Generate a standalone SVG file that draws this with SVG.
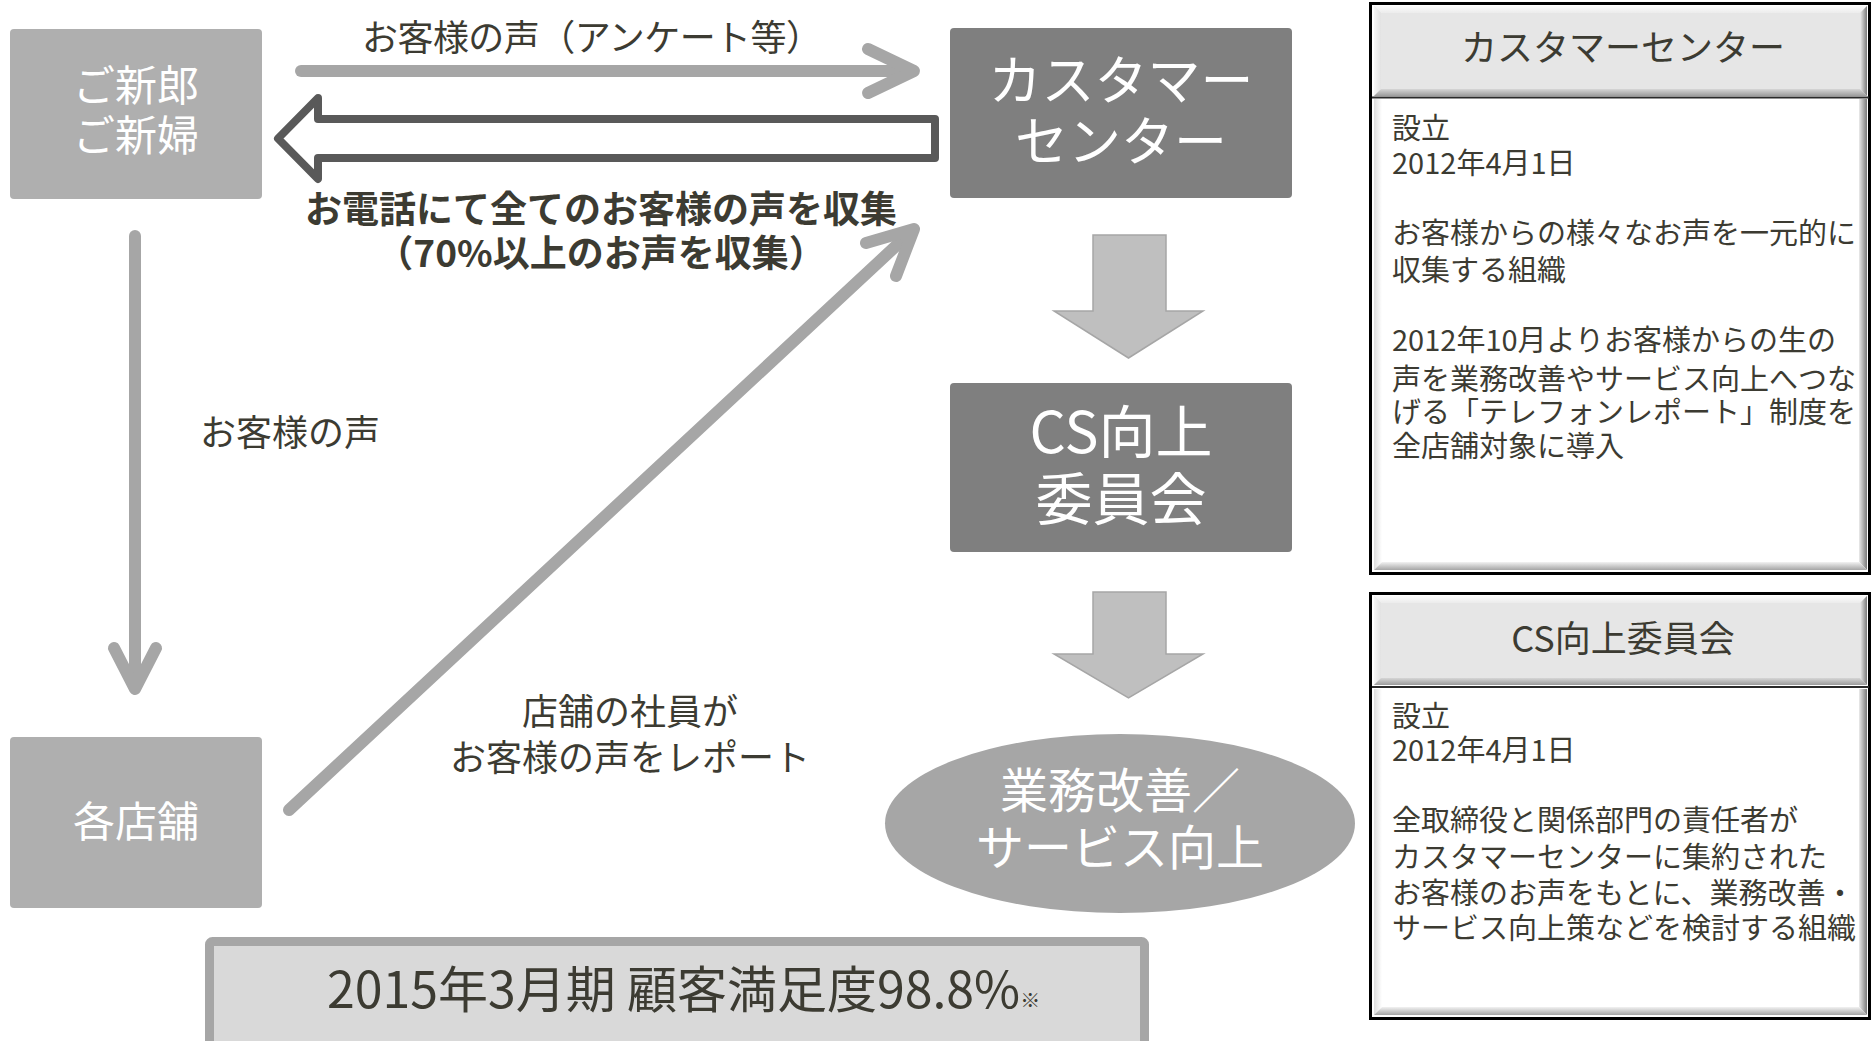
<svg xmlns="http://www.w3.org/2000/svg" width="1871" height="1041" viewBox="0 0 1871 1041">
<style>
text{font-family:"Noto Sans CJK JP","Noto Sans",sans-serif}
.wt{fill:#ffffff;text-anchor:middle}
.dk{fill:#3c3b32}
.mid{text-anchor:middle}
.body{font-size:29px;fill:#3c3b32}
.hd{font-size:36px;fill:#3c3b32;text-anchor:middle}
.ln{fill:none;stroke:#a6a6a6;stroke-width:12;stroke-linejoin:round;stroke-linecap:round}
.blk{fill:#bfbfbf;stroke:#a6a6a6;stroke-width:1.5}
</style>
<defs>
<linearGradient id="gTop" x1="0" y1="0" x2="0" y2="1"><stop offset="0" stop-color="#fbfbfb"/><stop offset="1" stop-color="#ececec"/></linearGradient>
<linearGradient id="gBotH" x1="0" y1="0" x2="0" y2="1"><stop offset="0" stop-color="#d6d6d6"/><stop offset="1" stop-color="#9c9c9c"/></linearGradient>
<linearGradient id="gBotB" x1="0" y1="0" x2="0" y2="1"><stop offset="0" stop-color="#f2f2f2"/><stop offset="1" stop-color="#a5a5a5"/></linearGradient>
<linearGradient id="gLeftH" x1="0" y1="0" x2="1" y2="0"><stop offset="0" stop-color="#f6f6f6"/><stop offset="1" stop-color="#e2e2e2"/></linearGradient>
<linearGradient id="gLeftB" x1="0" y1="0" x2="1" y2="0"><stop offset="0" stop-color="#dedede"/><stop offset="1" stop-color="#ffffff"/></linearGradient>
<linearGradient id="gRight" x1="0" y1="0" x2="1" y2="0"><stop offset="0" stop-color="#ebebeb"/><stop offset="1" stop-color="#7a7a7a"/></linearGradient>
</defs>
<rect width="1871" height="1041" fill="#ffffff"/>

<g id="connectors">
  <line class="ln" x1="301" y1="71" x2="912" y2="71" stroke-linecap="butt"/>
  <polyline class="ln" points="868,49 914,71 868,93"/>
  <path d="M935,119 L318,119 L318,98 L278,138.5 L318,179 L318,158 L935,158 Z" fill="#ffffff" stroke="#595959" stroke-width="8" stroke-linejoin="round"/>
  <line class="ln" x1="135" y1="236" x2="135" y2="686" stroke-linecap="butt"/>
  <polyline class="ln" points="114,648 135,689 156,648"/>
  <line class="ln" x1="289" y1="810" x2="911" y2="232" stroke-linecap="butt"/>
  <polyline class="ln" points="866,243 914,229 896,276"/>
  <path class="blk" d="M1093,235 H1166 V311 H1203 L1128.5,358 L1054,311 H1093 Z"/>
  <path class="blk" d="M1093,592 H1166 V654 H1203 L1128.5,698 L1054,654 H1093 Z"/>
</g>

<g id="label-top" class="dk"><text x="592" y="51" font-size="36" class="mid" textLength="460" lengthAdjust="spacing">お客様の声（アンケート等）</text></g>
<g id="label-phone" class="dk" font-weight="bold">
  <text x="601" y="223" font-size="37" class="mid">お電話にて全てのお客様の声を収集</text>
  <text x="601" y="267" font-size="37" class="mid">（70%以上のお声を収集）</text>
</g>
<g id="label-left" class="dk"><text x="200" y="446" font-size="36">お客様の声</text></g>
<g id="label-diag" class="dk">
  <text x="630" y="725" font-size="36" class="mid">店舗の社員が</text>
  <text x="630" y="771" font-size="36" class="mid">お客様の声をレポート</text>
</g>

<g id="node-couple">
  <rect x="10" y="29" width="252" height="170" rx="4" fill="#afafaf"/>
  <text class="wt" x="136" y="101" font-size="42">ご新郎</text>
  <text class="wt" x="136" y="151" font-size="42">ご新婦</text>
</g>
<g id="node-stores">
  <rect x="10" y="737" width="252" height="171" rx="4" fill="#afafaf"/>
  <text class="wt" x="136" y="837" font-size="42">各店舗</text>
</g>
<g id="node-center">
  <rect x="950" y="28" width="342" height="170" rx="4" fill="#7f7f7f"/>
  <text class="wt" x="1121" y="100" font-size="53">カスタマー</text>
  <text class="wt" x="1121" y="161" font-size="53">センター</text>
</g>
<g id="node-cs">
  <rect x="950" y="383" width="342" height="169" rx="4" fill="#7f7f7f"/>
  <text class="wt" x="1121" y="453" font-size="57">CS向上</text>
  <text class="wt" x="1121" y="520" font-size="57">委員会</text>
</g>
<g id="node-improve">
  <ellipse cx="1120" cy="823.5" rx="235" ry="89.5" fill="#a6a6a6"/>
  <text class="wt" x="1120" y="808" font-size="48">業務改善／</text>
  <text class="wt" x="1120" y="865" font-size="48">サービス向上</text>
</g>
<g id="node-satisfaction">
  <rect x="209.5" y="941.5" width="935" height="106" rx="3" fill="#d9d9d9" stroke="#a6a6a6" stroke-width="9"/>
  <text class="dk" x="327" y="1008" font-size="50">2015年3月期 顧客満足度98.8%<tspan font-size="20">※</tspan></text>
</g>

<g id="panel-center">
  <rect x="1370.5" y="3.5" width="499" height="570" fill="#ffffff" stroke="#000000" stroke-width="3"/>
  <rect x="1374" y="6" width="493" height="90" fill="#e6e6e6"/>
  <path d="M1374,6 H1867 L1860,13 H1381 Z" fill="url(#gTop)"/>
  <path d="M1374,6 L1381,13 V89 L1374,96 Z" fill="url(#gLeftH)"/>
  <path d="M1867,6 V96 L1860,89 V13 Z" fill="url(#gRight)"/>
  <path d="M1374,96 H1867 L1860,89 H1381 Z" fill="url(#gBotH)"/>
  <line x1="1372" y1="97.5" x2="1869" y2="97.5" stroke="#2a2a2a" stroke-width="2"/>
  <path d="M1374,99 H1382 V562 L1374,570 Z" fill="url(#gLeftB)"/>
  <path d="M1867,99 V570 L1859,562 V99 Z" fill="url(#gRight)"/>
  <path d="M1374,570 H1867 L1859,562 H1382 Z" fill="url(#gBotB)"/>
  <text class="hd" x="1623" y="61">カスタマーセンター</text>
  <text class="body" x="1392" y="139">設立</text>
  <text class="body" x="1392" y="174">2012年4月1日</text>
  <text class="body" x="1392" y="244">お客様からの様々なお声を一元的に</text>
  <text class="body" x="1392" y="281">収集する組織</text>
  <text class="body" x="1392" y="351">2012年10月よりお客様からの生の</text>
  <text class="body" x="1392" y="390">声を業務改善やサービス向上へつな</text>
  <text class="body" x="1392" y="423">げる「テレフォンレポート」制度を</text>
  <text class="body" x="1392" y="457">全店舗対象に導入</text>
</g>

<g id="panel-cs">
  <rect x="1370.5" y="593.5" width="499" height="425" fill="#ffffff" stroke="#000000" stroke-width="3"/>
  <rect x="1374" y="596" width="493" height="89" fill="#e6e6e6"/>
  <path d="M1374,596 H1867 L1860,603 H1381 Z" fill="url(#gTop)"/>
  <path d="M1374,596 L1381,603 V678 L1374,685 Z" fill="url(#gLeftH)"/>
  <path d="M1867,596 V685 L1860,678 V603 Z" fill="url(#gRight)"/>
  <path d="M1374,685 H1867 L1860,678 H1381 Z" fill="url(#gBotH)"/>
  <line x1="1372" y1="687" x2="1869" y2="687" stroke="#2a2a2a" stroke-width="2"/>
  <path d="M1374,689 H1382 V1007 L1374,1015 Z" fill="url(#gLeftB)"/>
  <path d="M1867,689 V1015 L1859,1007 V689 Z" fill="url(#gRight)"/>
  <path d="M1374,1015 H1867 L1859,1007 H1382 Z" fill="url(#gBotB)"/>
  <text class="hd" x="1623" y="652">CS向上委員会</text>
  <text class="body" x="1392" y="727">設立</text>
  <text class="body" x="1392" y="761">2012年4月1日</text>
  <text class="body" x="1392" y="831">全取締役と関係部門の責任者が</text>
  <text class="body" x="1392" y="868">カスタマーセンターに集約された</text>
  <text class="body" x="1392" y="904">お客様のお声をもとに、業務改善・</text>
  <text class="body" x="1392" y="939">サービス向上策などを検討する組織</text>
</g>
</svg>
